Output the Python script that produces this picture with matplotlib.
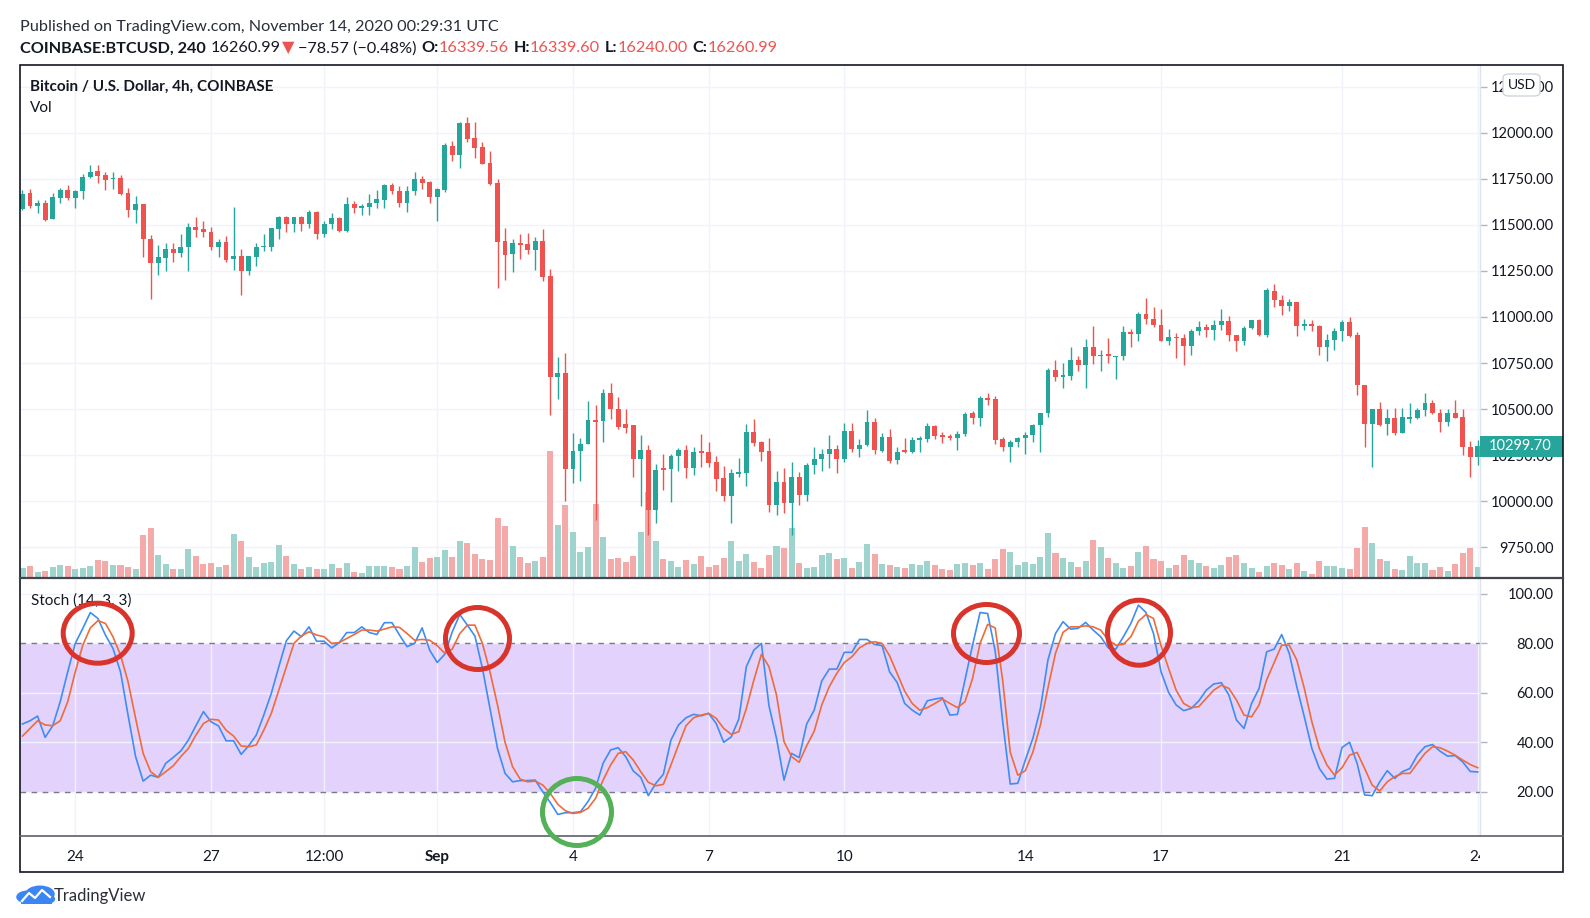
import numpy as np
import pandas as pd
import matplotlib.pyplot as plt
import matplotlib.transforms as mtransforms
from matplotlib.patches import Ellipse, Rectangle, FancyBboxPatch, Circle
from matplotlib.lines import Line2D

plt.rcParams['font.family'] = ['Lato', 'DejaVu Sans']

# COINBASE:BTCUSD, 4h bars, first visible bar opens 2020-08-22 20:00 UTC
first_bar = '2020-08-22 20:00'

opens = [11588, 11673, 11605, 11619, 11531, 11648, 11688, 11648, 11682, 11758,
         11792, 11772, 11749, 11754, 11673, 11583, 11612, 11421, 11295, 11322,
         11369, 11349, 11378, 11490, 11475, 11461, 11381, 11408, 11313, 11331,
         11252, 11327, 11378, 11381, 11480, 11543, 11502, 11540, 11502, 11571,
         11448, 11502, 11535, 11466, 11612, 11594, 11597, 11616, 11637, 11714,
         11684, 11621, 11682, 11747, 11733, 11652, 11691, 11927, 11877, 12053,
         11970, 11921, 11835, 11727, 11412, 11340, 11399, 11396, 11365, 11412,
         11223, 10674, 10697, 10175, 10274, 10310, 10441, 10436, 10585, 10503,
         10418, 10412, 10229, 10279, 9955, 10178, 10175, 10243, 10277, 10178,
         10272, 10265, 10211, 10124, 10031, 10146, 10153, 10378, 10319, 10274,
         9982, 10106, 9989, 10133, 10034, 10196, 10229, 10256, 10286, 10229,
         10384, 10283, 10304, 10432, 10274, 10351, 10222, 10276, 10265, 10333,
         10340, 10407, 10357, 10355, 10342, 10367, 10477, 10452, 10562, 10553,
         10337, 10292, 10319, 10342, 10362, 10412, 10481, 10710, 10674, 10681,
         10764, 10742, 10838, 10789, 10793, 10782, 10787, 10920, 10910, 11018,
         10989, 10958, 10872, 10893, 10886, 10841, 10922, 10946, 10928, 10955,
         10980, 10903, 10868, 10940, 10985, 10904, 11142, 11093, 11057, 11083,
         10949, 10964, 10953, 10836, 10874, 10922, 10971, 10904, 10632, 10418,
         10503, 10418, 10454, 10373, 10449, 10450, 10495, 10535, 10481, 10432,
         10481, 10459, 10297, 10238]
highs = [11691, 11697, 11634, 11634, 11673, 11702, 11718, 11691, 11774, 11826,
         11826, 11787, 11787, 11768, 11702, 11657, 11615, 11444, 11390, 11399,
         11403, 11450, 11508, 11544, 11522, 11490, 11421, 11439, 11597, 11367,
         11331, 11403, 11453, 11484, 11549, 11549, 11544, 11549, 11583, 11576,
         11522, 11562, 11540, 11652, 11630, 11615, 11666, 11688, 11724, 11727,
         11709, 11709, 11787, 11763, 11736, 11702, 11943, 11954, 12057, 12087,
         12057, 11949, 11900, 11747, 11484, 11421, 11453, 11457, 11435, 11480,
         11262, 10782, 10805, 10369, 10346, 10544, 10520, 10611, 10643, 10568,
         10503, 10412, 10359, 10308, 10200, 10254, 10254, 10288, 10308, 10292,
         10364, 10319, 10247, 10193, 10175, 10236, 10418, 10448, 10328, 10344,
         10166, 10178, 10211, 10157, 10207, 10292, 10286, 10358, 10308, 10423,
         10427, 10337, 10493, 10454, 10369, 10391, 10297, 10346, 10351, 10355,
         10425, 10412, 10378, 10367, 10382, 10486, 10490, 10571, 10589, 10571,
         10351, 10335, 10349, 10378, 10418, 10481, 10723, 10764, 10751, 10838,
         10787, 10881, 10953, 10823, 10886, 10791, 10949, 10935, 11027, 11103,
         11054, 11043, 10935, 10913, 10910, 10935, 10980, 10962, 10985, 11043,
         11007, 10904, 10953, 10985, 10991, 11155, 11180, 11120, 11099, 11083,
         10991, 10985, 10958, 10910, 10940, 10985, 10998, 10917, 10632, 10503,
         10540, 10499, 10504, 10508, 10531, 10508, 10585, 10548, 10499, 10499,
         10548, 10503, 10328, 10335]
lows = [11580, 11594, 11565, 11522, 11531, 11619, 11637, 11589, 11641, 11754,
        11727, 11691, 11697, 11662, 11543, 11511, 11324, 11100, 11230, 11252,
        11300, 11327, 11252, 11432, 11432, 11363, 11324, 11300, 11255, 11122,
        11230, 11279, 11360, 11360, 11421, 11462, 11462, 11468, 11484, 11421,
        11435, 11475, 11462, 11462, 11565, 11552, 11552, 11594, 11592, 11670,
        11598, 11570, 11664, 11697, 11616, 11522, 11680, 11846, 11808, 11952,
        11864, 11828, 11718, 11160, 11201, 11246, 11315, 11342, 11255, 11196,
        10470, 10553, 10003, 10097, 10112, 10310, 9896, 10319, 10449, 10394,
        10369, 10130, 9973, 9815, 9881, 10061, 9998, 10166, 10126, 10144,
        10184, 10184, 10058, 10004, 9881, 10130, 10085, 10301, 10220, 9941,
        9923, 9937, 9818, 9982, 10004, 10148, 10166, 10180, 10155, 10214,
        10265, 10238, 10301, 10256, 10270, 10207, 10202, 10261, 10261, 10270,
        10322, 10337, 10315, 10333, 10279, 10355, 10418, 10409, 10520, 10313,
        10274, 10211, 10292, 10256, 10322, 10265, 10457, 10650, 10616, 10659,
        10706, 10616, 10746, 10706, 10751, 10665, 10766, 10836, 10868, 10964,
        10944, 10872, 10850, 10778, 10739, 10796, 10904, 10890, 10877, 10928,
        10868, 10814, 10850, 10937, 10899, 10890, 11052, 11012, 11030, 10899,
        10931, 10926, 10793, 10760, 10820, 10872, 10890, 10575, 10292, 10184,
        10409, 10358, 10358, 10373, 10423, 10445, 10463, 10475, 10378, 10409,
        10454, 10252, 10133, 10195]
closes = [11670, 11601, 11619, 11529, 11652, 11691, 11646, 11684, 11760, 11787,
          11767, 11745, 11754, 11670, 11583, 11612, 11421, 11295, 11324, 11369,
          11345, 11381, 11490, 11472, 11459, 11381, 11408, 11309, 11331, 11252,
          11331, 11381, 11387, 11484, 11543, 11502, 11540, 11502, 11571, 11448,
          11504, 11535, 11466, 11612, 11594, 11600, 11619, 11641, 11718, 11682,
          11621, 11684, 11747, 11729, 11652, 11695, 11931, 11877, 12053, 11967,
          11918, 11831, 11724, 11408, 11338, 11399, 11392, 11365, 11412, 11219,
          10674, 10697, 10175, 10274, 10313, 10441, 10432, 10589, 10499, 10405,
          10400, 10229, 10279, 9955, 10171, 10171, 10243, 10277, 10178, 10270,
          10263, 10205, 10121, 10031, 10151, 10157, 10378, 10315, 10270, 9982,
          10106, 9989, 10133, 10034, 10198, 10232, 10259, 10286, 10229, 10384,
          10283, 10308, 10432, 10277, 10351, 10220, 10265, 10265, 10333, 10342,
          10407, 10353, 10351, 10346, 10367, 10472, 10452, 10562, 10549, 10335,
          10292, 10322, 10344, 10362, 10412, 10481, 10710, 10674, 10683, 10764,
          10742, 10838, 10789, 10793, 10791, 10791, 10919, 10908, 11018, 10987,
          10958, 10872, 10892, 10884, 10841, 10926, 10946, 10928, 10958, 10980,
          10901, 10868, 10940, 10985, 10904, 11147, 11090, 11057, 11083, 10949,
          10964, 10949, 10836, 10877, 10926, 10971, 10899, 10629, 10418, 10503,
          10414, 10454, 10373, 10459, 10454, 10495, 10535, 10477, 10432, 10481,
          10454, 10292, 10238, 10299.70]
volume = [10.5, 12.4, 6.5, 7.5, 11.4, 13.7, 12.4, 9.5, 10.5, 12.4,
          18.6, 17.3, 13.7, 13.7, 11.4, 9.5, 43.1, 50.0, 23.5, 14.7,
          9.5, 9.5, 29.0, 22.2, 14.7, 15.4, 11.4, 13.7, 44.1, 36.9,
          21.2, 11.4, 15.4, 16.3, 33.3, 22.2, 14.7, 8.8, 11.4, 9.5,
          9.5, 14.7, 10.5, 15.4, 6.5, 5.6, 12.4, 12.4, 12.4, 11.4,
          9.5, 12.4, 31.0, 16.3, 20.3, 21.2, 28.4, 21.2, 36.9, 35.0,
          24.5, 19.0, 18.0, 59.8, 52.0, 32.0, 21.2, 15.4, 17.3, 21.2,
          126.8, 53.0, 73.5, 46.7, 26.1, 31.0, 74.5, 40.8, 19.3, 20.3,
          16.3, 22.2, 46.7, 86.0, 36.9, 19.3, 17.3, 11.4, 18.3, 14.7,
          22.2, 11.4, 13.7, 20.3, 37.6, 17.3, 24.5, 16.1, 10.2, 22.9,
          32.7, 30.1, 50.4, 15.1, 10.2, 11.2, 22.9, 24.9, 19.0, 20.0,
          10.2, 16.1, 34.7, 24.2, 14.1, 13.1, 11.2, 10.2, 14.1, 13.1,
          17.1, 13.1, 9.2, 8.2, 14.1, 15.1, 13.1, 15.1, 9.2, 19.0,
          28.8, 25.9, 13.1, 16.1, 14.1, 21.0, 44.8, 24.9, 20.0, 16.1,
          11.2, 17.1, 38.0, 30.8, 20.0, 15.1, 10.2, 12.2, 25.9, 32.7,
          19.0, 17.1, 10.2, 13.1, 22.9, 18.0, 15.1, 12.2, 10.2, 13.1,
          21.0, 22.9, 15.1, 10.2, 6.3, 12.2, 15.1, 13.1, 9.2, 15.1,
          7.2, 4.6, 17.1, 12.2, 12.2, 10.2, 9.2, 30.1, 51.4, 35.7,
          19.0, 17.1, 9.2, 8.2, 22.0, 15.1, 15.1, 8.2, 11.2, 7.2,
          14.1, 24.9, 30.1, 11.0]
stoch_k = [47.4, 48.7, 50.6, 42.0, 46.6, 56.4, 68.5, 80.0, 86.1, 92.5,
           90.1, 83.4, 78.0, 68.5, 51.0, 34.2, 24.3, 26.7, 25.8, 31.5,
           33.9, 36.5, 40.9, 46.7, 52.4, 48.3, 46.6, 40.6, 40.6, 35.1,
           38.6, 42.9, 51.0, 59.8, 70.6, 81.1, 85.0, 82.7, 86.7, 80.9,
           80.9, 78.2, 80.3, 84.4, 84.4, 86.7, 84.4, 83.6, 88.4, 88.4,
           83.4, 78.7, 80.0, 86.3, 77.3, 72.3, 75.6, 84.7, 91.7, 87.4,
           83.0, 69.9, 53.7, 37.5, 27.4, 24.0, 24.5, 24.5, 24.7, 20.0,
           15.6, 10.8, 11.5, 11.5, 11.9, 16.0, 21.4, 31.5, 36.9, 37.8,
           34.2, 28.4, 25.8, 18.4, 23.4, 27.1, 40.9, 47.0, 49.9, 51.3,
           50.7, 51.7, 47.6, 40.0, 42.2, 49.4, 70.6, 77.3, 80.0, 54.8,
           41.6, 24.7, 35.5, 33.8, 47.4, 53.0, 64.8, 69.6, 69.6, 76.4,
           76.4, 81.6, 81.6, 79.6, 79.1, 68.5, 64.2, 55.7, 53.0, 51.0,
           56.8, 57.5, 58.0, 51.0, 51.3, 65.2, 79.3, 92.5, 92.1, 77.0,
           48.3, 23.1, 23.4, 32.8, 41.6, 53.7, 73.3, 84.0, 88.8, 85.8,
           86.1, 88.5, 85.4, 82.7, 78.2, 77.7, 82.7, 88.1, 95.5, 92.5,
           84.0, 68.5, 60.2, 55.1, 52.8, 53.7, 56.7, 61.1, 63.6, 64.1,
           59.1, 49.0, 45.6, 55.7, 61.8, 76.6, 77.7, 83.6, 76.0, 62.5,
           50.3, 37.5, 29.4, 25.1, 25.4, 37.9, 40.0, 31.5, 18.7, 18.4,
           24.0, 28.5, 25.4, 28.1, 29.4, 34.8, 38.2, 39.1, 36.4, 34.4,
           34.6, 32.1, 28.2, 28.0]
stoch_d = [42.5, 45.6, 48.7, 47.0, 46.7, 48.7, 56.4, 68.5, 79.3, 86.3,
           89.2, 88.1, 82.7, 75.3, 64.5, 49.7, 35.5, 28.1, 25.8, 28.1,
           30.5, 34.2, 37.5, 42.9, 47.6, 49.3, 49.0, 44.9, 42.5, 38.5,
           38.2, 38.9, 44.9, 51.7, 61.1, 70.6, 80.0, 83.0, 84.7, 83.4,
           82.7, 80.0, 80.3, 82.0, 83.6, 85.4, 85.4, 85.0, 85.8, 86.7,
           86.5, 84.0, 81.3, 81.6, 81.3, 79.1, 76.0, 77.7, 84.0, 87.4,
           87.4, 80.0, 68.5, 55.1, 40.0, 30.1, 25.1, 24.0, 24.3, 22.7,
           19.3, 14.9, 12.3, 11.2, 11.6, 13.3, 17.3, 24.7, 30.8, 35.5,
           36.2, 32.8, 28.1, 23.8, 22.4, 23.0, 30.8, 38.9, 46.7, 49.9,
           51.0, 51.7, 49.7, 45.6, 43.2, 44.3, 53.7, 65.2, 75.6, 70.6,
           59.1, 40.2, 34.2, 31.9, 38.6, 44.5, 55.1, 62.5, 67.9, 72.3,
           74.6, 78.2, 80.0, 80.7, 80.0, 75.0, 67.9, 60.7, 55.7, 53.0,
           54.0, 55.7, 57.5, 55.7, 54.0, 56.4, 65.8, 80.0, 87.7, 86.3,
           65.0, 36.0, 26.7, 28.5, 36.0, 47.0, 62.0, 76.0, 84.5, 86.7,
           86.7, 87.1, 86.7, 85.4, 81.3, 79.3, 79.6, 82.7, 89.0, 91.7,
           90.1, 79.1, 69.9, 61.1, 55.7, 54.0, 54.4, 57.8, 61.1, 63.1,
           61.8, 57.1, 51.0, 50.3, 55.1, 65.2, 72.3, 79.3, 79.3, 73.3,
           61.8, 48.3, 37.5, 30.8, 26.7, 29.7, 34.8, 35.9, 29.4, 22.7,
           20.3, 24.0, 26.1, 27.4, 27.4, 31.5, 35.5, 38.2, 37.8, 36.4,
           34.8, 32.8, 31.0, 29.7]

price_ticks = [9750, 10000, 10250, 10500, 10750, 11000, 11250, 11500, 11750, 12000, 12250]
stoch_ticks = [20, 40, 60, 80, 100]
time_ticks = [('2020-08-24 00:00', '24'), ('2020-08-27 00:00', '27'), ('2020-08-29 12:00', '12:00'),
              ('2020-09-01 00:00', 'Sep'), ('2020-09-04 00:00', '4'), ('2020-09-07 00:00', '7'),
              ('2020-09-10 00:00', '10'), ('2020-09-14 00:00', '14'), ('2020-09-17 00:00', '17'),
              ('2020-09-21 00:00', '21'), ('2020-09-24 00:00', '24')]

UP, DOWN = '#26a69a', '#ef5350'
UP_V, DOWN_V = '#9fd4ce', '#f3aaa8'
GRID = '#f0f3fa'
TXT = '#131722'

W, H = 1590, 918
fig = plt.figure(figsize=(W / 100, H / 100), dpi=100)


def box(l, t, r, b):
    return [l / W, 1 - b / H, (r - l) / W, (b - t) / H]


L, R, RR = 20.3, 1480, 1562.6
T, MB, SB, B = 64.9, 578.3, 835.5, 871.5

ax_p = fig.add_axes(box(L, T, R, MB))
ax_v = ax_p.twinx()
ax_c = ax_p.twinx()
ax_s = fig.add_axes(box(L, MB, R, SB), sharex=ax_p)
ax_t = fig.add_axes(box(L, SB, R, B), sharex=ax_p)
for a in (ax_p, ax_v, ax_c, ax_s, ax_t):
    for sp in a.spines.values():
        sp.set_visible(False)

t0 = pd.Timestamp(first_bar)
x = np.arange(len(closes))
tick_pos = [(pd.Timestamp(t) - t0) / pd.Timedelta(hours=4) for t, _ in time_ticks]

o = np.array(opens, float)
h = np.array(highs, float)
lo = np.array(lows, float)
c = np.array(closes, float)
up = c >= o

ax_p.set_xlim(-0.29, 193.3)
ax_p.set_ylim(9582, 12368)
ax_c.set_ylim(9582, 12368)
ax_v.set_ylim(0, 513)
ax_s.set_ylim(2.28, 106.35)

ax_p.set_xticks(tick_pos)
ax_p.set_yticks(price_ticks)
ax_p.grid(True, color=GRID, lw=1)
ax_p.tick_params(left=False, bottom=False, labelleft=False, labelbottom=False)
ax_v.set_yticks([])
ax_v.tick_params(right=False, labelright=False)

# volume
ax_v.bar(x, volume, width=0.8, color=np.where(up, UP_V, DOWN_V), linewidth=0)

# candles
col = np.where(up, UP, DOWN)
ax_c.vlines(x, lo, h, colors=col, lw=1.0)
body_h = np.maximum(np.abs(c - o), 6)
ax_c.bar(x, body_h, bottom=np.minimum(o, c), width=0.64, color=col, linewidth=0)

pad_pt = (1552 - R - 5) * 72 / 100
ax_c.set_yticks(price_ticks)
ax_c.set_yticklabels([f'{p:.2f}' for p in price_ticks])
ax_c.tick_params(axis='y', length=5, width=1, color='#b2b5be', pad=pad_pt,
                 labelsize=10.5, labelcolor=TXT)
for lbl in ax_c.get_yticklabels():
    lbl.set_horizontalalignment('right')

# stochastic
ax_s.axhspan(20, 80, color='#e3d2fb', lw=0, zorder=0)
ax_s.set_yticks(stoch_ticks)
ax_s.grid(True, color=GRID, lw=1, zorder=0)
ax_s.set_axisbelow(True)
ax_s.axhline(80, color='#787b86', lw=1, ls=(0, (4, 4)))
ax_s.axhline(20, color='#787b86', lw=1, ls=(0, (4, 4)))
ax_s.plot(x, stoch_k, color='#3f8cf3', lw=1.2)
ax_s.plot(x, stoch_d, color='#ee6b3b', lw=1.2)
ax_s.yaxis.tick_right()
ax_s.set_yticklabels([f'{v:.2f}' for v in stoch_ticks])
ax_s.tick_params(axis='y', length=5, width=1, color='#b2b5be', pad=pad_pt,
                 labelsize=10.5, labelcolor=TXT)
ax_s.tick_params(axis='x', bottom=False, labelbottom=False)
for lbl in ax_s.get_yticklabels():
    lbl.set_horizontalalignment('right')

# time axis
ax_t.set_ylim(0, 1)
ax_t.tick_params(left=False, bottom=False, labelleft=False, labelbottom=False)
ax_t.patch.set_visible(False)
for p, (_, lab) in zip(tick_pos, time_ticks):
    ax_t.text(p, 0.4, lab, ha='center', va='center', fontsize=11, color=TXT,
              fontweight='bold' if lab == 'Sep' else 'normal', clip_on=True)

# current price tag
tag_tr = mtransforms.blended_transform_factory(fig.transFigure, ax_c.transData)
ppx = (12368 - 9582) / (MB - T)
last = closes[-1]
fig.add_artist(Rectangle((R / W, last - 10.5 * ppx), (RR - R) / W, 21 * ppx,
                         transform=tag_tr, fc=UP, ec='none', zorder=5))
fig.text(1552 / W, last, f'{last:.2f}', transform=tag_tr, ha='right', va='center',
         color='white', fontsize=10.5, zorder=6)

# USD badge
fig.add_artist(FancyBboxPatch((1503 / W, 1 - 96 / H), 37 / W, 22 / H,
                              boxstyle='round,pad=0,rounding_size=0.004',
                              transform=fig.transFigure, fc='white', ec='#d1d4dc',
                              lw=1, zorder=7))
fig.text(1521.5 / W, 1 - 85 / H, 'USD', ha='center', va='center', fontsize=10,
         color=TXT, zorder=8)

# frame and separators
fig.add_artist(Rectangle((L / W, 1 - B / H), (RR - L) / W, (B - T) / H,
                         transform=fig.transFigure, fill=False, ec=TXT, lw=1.2, zorder=9))
fig.add_artist(Line2D([R / W, R / W], [1 - T / H, 1 - SB / H], color='#e0e3eb', lw=1))
fig.add_artist(Line2D([L / W, RR / W], [1 - MB / H] * 2, color='#434651', lw=1.6, zorder=9))
fig.add_artist(Line2D([L / W, RR / W], [1 - SB / H] * 2, color='#5d606b', lw=1.2, zorder=9))

# legends
fig.text(30.4 / W, 1 - 86.5 / H, 'Bitcoin / U.S. Dollar, 4h, COINBASE', fontsize=11,
         fontweight='bold', color=TXT, va='center')
fig.text(30.4 / W, 1 - 108 / H, 'Vol', fontsize=11, color=TXT, va='center')
fig.text(31 / W, 1 - 601 / H, 'Stoch (14, 3, 3)', fontsize=11, color=TXT, va='center')

# header
fig.text(20.3 / W, 1 - 26.5 / H, 'Published on TradingView.com, November 14, 2020 00:29:31 UTC',
         fontsize=11.7, color='#2a2e39', va='center')
parts = [('COINBASE:BTCUSD, 240', 'bold', TXT, 5), ('16260.99', 'normal', TXT, 1),
         ('\u25bc', 'normal', DOWN, 3), ('\u221278.57 (\u22120.48%)', 'normal', TXT, 5),
         ('O:', 'bold', TXT, 0), ('16339.56', 'normal', DOWN, 5),
         ('H:', 'bold', TXT, 0), ('16339.60', 'normal', DOWN, 5),
         ('L:', 'bold', TXT, 0), ('16240.00', 'normal', DOWN, 5),
         ('C:', 'bold', TXT, 0), ('16260.99', 'normal', DOWN, 0)]
renderer = fig.canvas.get_renderer()
xp = 20.3
for s, wt, cl, gap in parts:
    t = fig.text(xp / W, 1 - 48.5 / H, s, fontsize=11.7, fontweight=wt, color=cl, va='center')
    xp += t.get_window_extent(renderer).width + gap

# hand-drawn highlight circles
RED_C, GREEN_C = '#d9342b', '#55b158'
for cx, cy, ew, eh, cc in [(97.7, 633.2, 69, 60, RED_C), (477.5, 638.5, 64, 62, RED_C),
                           (986.5, 633.5, 66, 58, RED_C), (1139, 632.7, 63, 65, RED_C),
                           (577, 812, 69, 67, GREEN_C)]:
    fig.add_artist(Ellipse((cx / W, 1 - cy / H), ew / W, eh / H, transform=fig.transFigure,
                           fill=False, ec=cc, lw=3.6, zorder=10))

# TradingView logo
for cx, cy, r in [(27.5, 897, 6.5), (40, 894, 8.5), (46.5, 899, 5)]:
    fig.add_artist(Circle((cx / W, 1 - cy / H), r / H, transform=fig.transFigure,
                          fc='#3b86f2', ec='none', zorder=3))
fig.add_artist(Rectangle((21 / W, 1 - 904 / H), 30.5 / W, 6 / H, transform=fig.transFigure,
                         fc='#3b86f2', ec='none', zorder=3))
fig.add_artist(Line2D(np.array([22, 29, 35, 42, 50]) / W, 1 - np.array([901, 893, 898, 890, 897]) / H,
                      color='white', lw=1.6, zorder=4))
fig.text(54 / W, 1 - 895.5 / H, 'TradingView', fontsize=12, color='#2a2e39', va='center')

fig.savefig('out.png', dpi=100, facecolor='white')
